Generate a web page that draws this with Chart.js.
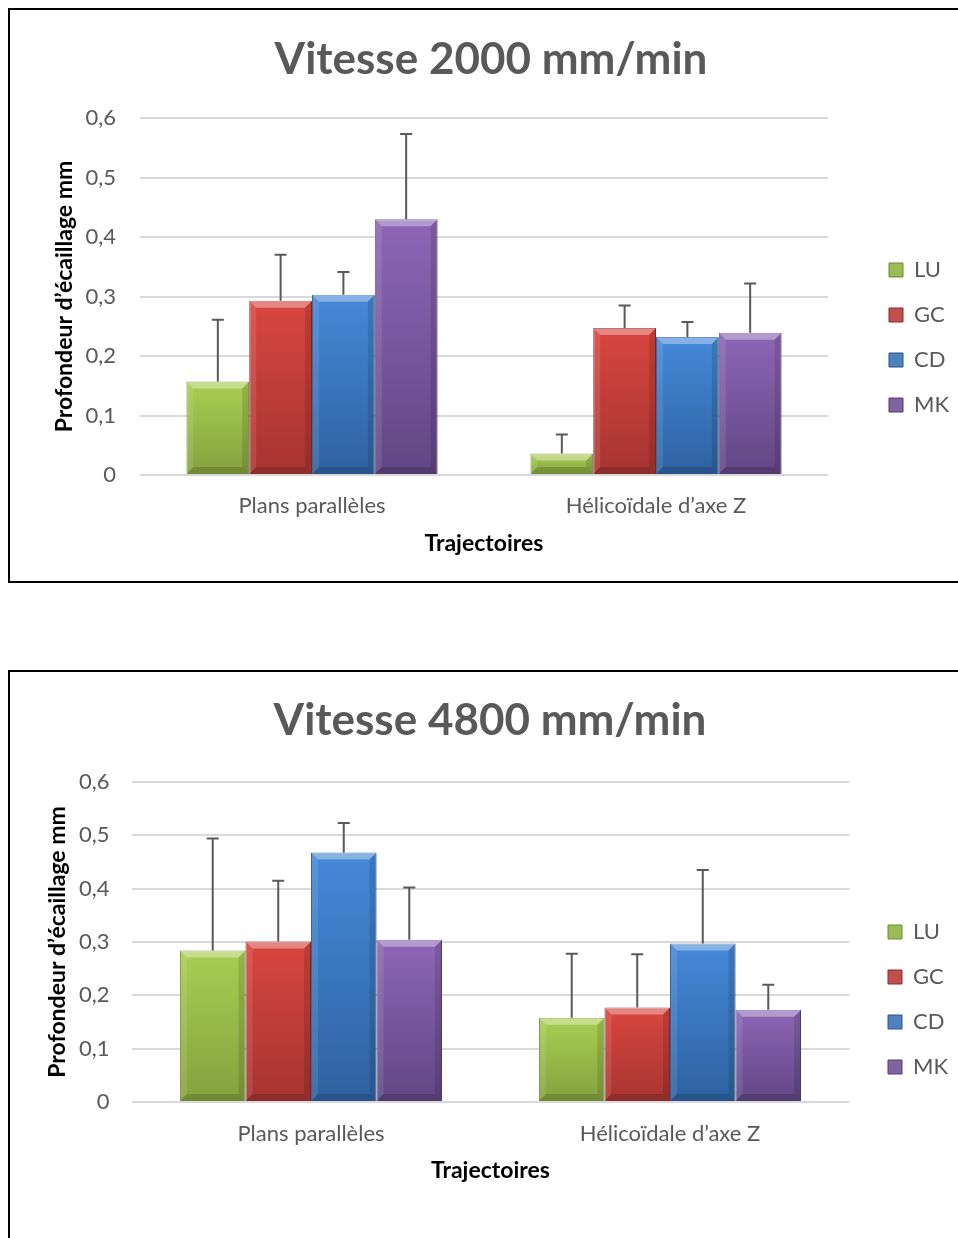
<!DOCTYPE html>
<html>
<head>
<meta charset="utf-8">
<script src="https://cdn.jsdelivr.net/npm/chart.js@4/dist/chart.umd.min.js"></script>
<style>
  html, body { margin: 0; padding: 0; background: #fff; width: 958px; height: 1238px; overflow: hidden; }
  .box { position: absolute; left: 8px; border: 2px solid #000; background: #fff; }
  #box1 { top: 8px; width: 1000px; height: 571px; }
  #box2 { top: 670px; width: 1000px; height: 620px; }
  canvas { display: block; }
</style>
</head>
<body>
<div class="box" id="box1"><canvas id="c1" width="1000" height="571"></canvas></div>
<div class="box" id="box2"><canvas id="c2" width="1000" height="600"></canvas></div>
<script>
// ---------- data ----------
const categories = ['Plans parallèles', 'Hélicoïdale d’axe Z'];
const seriesNames = ['LU', 'GC', 'CD', 'MK'];
const yTickLabels = ['0', '0,1', '0,2', '0,3', '0,4', '0,5', '0,6'];
const yAxisTitle = 'Profondeur d’écaillage mm';
const xAxisTitle = 'Trajectoires';
const title2000 = 'Vitesse 2000 mm/min';
const title4800 = 'Vitesse 4800 mm/min';

// Vitesse 2000 mm/min
const lu2000 = [0.157, 0.036];
const gc2000 = [0.293, 0.247];
const cd2000 = [0.303, 0.232];
const mk2000 = [0.430, 0.239];
const luErr2000 = [0.104, 0.032];
const gcErr2000 = [0.077, 0.038];
const cdErr2000 = [0.038, 0.025];
const mkErr2000 = [0.143, 0.083];

// Vitesse 4800 mm/min
const lu4800 = [0.284, 0.158];
const gc4800 = [0.301, 0.177];
const cd4800 = [0.468, 0.297];
const mk4800 = [0.304, 0.173];
const luErr4800 = [0.210, 0.120];
const gcErr4800 = [0.114, 0.100];
const cdErr4800 = [0.055, 0.138];
const mkErr4800 = [0.098, 0.047];

// ---------- styles ----------
const topColors = ['#a9ce52', '#d9463f', '#4589d9', '#8d66b6'];
const botColors = ['#84a13e', '#a63431', '#2e62a0', '#614684'];
const midColors = ['#9bbb59', '#c0504d', '#4f81bd', '#8064a2'];
const edgeColors = ['#718b33', '#8c2b28', '#28558a', '#513d75'];

const FAMILY = 'Lato, "Open Sans", sans-serif';
Chart.defaults.font.family = FAMILY;
Chart.defaults.color = '#595959';

const TICK_SIZE = 22, AXIS_TITLE_SIZE = 23, LEGEND_SIZE = 22, LEG_BOX = 14, LEG_PAD = 23;

// natural width of the vertical legend (as Chart.js computes it)
function legendWidth() {
  const c = document.createElement('canvas').getContext('2d');
  c.font = 'normal normal ' + LEGEND_SIZE + 'px ' + FAMILY;
  let w = 0;
  seriesNames.forEach(n => { w = Math.max(w, LEG_BOX + LEGEND_SIZE / 2 + c.measureText(n).width); });
  return LEG_PAD + w + 10;
}

const barDecor = {
  id: 'barDecor',
  afterDatasetsDraw(chart) {
    const ctx = chart.ctx;
    const yScale = chart.scales.y;
    chart.data.datasets.forEach((ds, di) => {
      const meta = chart.getDatasetMeta(di);
      meta.data.forEach((bar) => {
        const p = bar.getProps(['x', 'y', 'base', 'width'], true);
        const l = p.x - p.width / 2, r = p.x + p.width / 2, t = p.y, b = p.base;
        const h = b - t;
        const bv = Math.min(7, h / 2, p.width / 2);
        ctx.save();
        ctx.fillStyle = 'rgba(255,255,255,0.35)';
        ctx.beginPath(); ctx.moveTo(l, t); ctx.lineTo(r, t); ctx.lineTo(r - bv, t + bv); ctx.lineTo(l + bv, t + bv); ctx.closePath(); ctx.fill();
        ctx.fillStyle = 'rgba(255,255,255,0.10)';
        ctx.beginPath(); ctx.moveTo(l, t); ctx.lineTo(l + bv, t + bv); ctx.lineTo(l + bv, b - bv); ctx.lineTo(l, b); ctx.closePath(); ctx.fill();
        ctx.fillStyle = 'rgba(0,0,0,0.12)';
        ctx.beginPath(); ctx.moveTo(r, t); ctx.lineTo(r - bv, t + bv); ctx.lineTo(r - bv, b - bv); ctx.lineTo(r, b); ctx.closePath(); ctx.fill();
        ctx.fillStyle = 'rgba(0,0,0,0.15)';
        ctx.beginPath(); ctx.moveTo(l, b); ctx.lineTo(l + bv, b - bv); ctx.lineTo(r - bv, b - bv); ctx.lineTo(r, b); ctx.closePath(); ctx.fill();
        ctx.restore();
      });
    });
    chart.data.datasets.forEach((ds, di) => {
      const meta = chart.getDatasetMeta(di);
      meta.data.forEach((bar, i) => {
        const v = ds.data[i], e = ds.errors[i];
        const x = bar.x;
        const y0 = yScale.getPixelForValue(v);
        const y1 = yScale.getPixelForValue(v + e);
        ctx.save();
        ctx.strokeStyle = '#595959';
        ctx.lineWidth = 2;
        ctx.beginPath();
        ctx.moveTo(x, y0); ctx.lineTo(x, y1);
        ctx.moveTo(x - 6, y1); ctx.lineTo(x + 6, y1);
        ctx.stroke();
        ctx.restore();
      });
    });
  }
};

function makeDatasets(values, errors) {
  return values.map((vals, si) => ({
    label: seriesNames[si],
    data: vals,
    errors: errors[si],
    borderColor: edgeColors[si],
    borderWidth: 1,
    backgroundColor: (c) => {
      const chart = c.chart;
      if (!chart.chartArea || !chart.scales.y || c.raw == null) return midColors[si];
      const ys = chart.scales.y;
      const top = ys.getPixelForValue(c.raw);
      const base = ys.getPixelForValue(0);
      if (!isFinite(top) || !isFinite(base) || base - top < 1) return midColors[si];
      const g = chart.ctx.createLinearGradient(0, top, 0, base);
      g.addColorStop(0, topColors[si]);
      g.addColorStop(1, botColors[si]);
      return g;
    },
    categoryPercentage: 0.73,
    barPercentage: 1.0
  }));
}

// g: target geometry in canvas pixels
function makeChart(id, title, values, errors, g) {
  const canvasW = 1000;
  const Lw = legendWidth();
  const legRight = g.legBoxX - LEG_PAD + Lw;       // right edge of legend = W - padR
  const padR = canvasW - legRight;
  const padL = 2 * g.titleCenterX - legRight;       // keeps title centred at titleCenterX
  const legLeft = legRight - Lw;
  const rightGap = legLeft - g.plotRight;
  const legTitleH = g.legFirstY - LEG_PAD - Math.max(LEGEND_SIZE, LEG_BOX) / 2;
  const tLine = AXIS_TITLE_SIZE * 1.2;

  return new Chart(document.getElementById(id), {
    type: 'bar',
    data: { labels: categories, datasets: makeDatasets(values, errors) },
    plugins: [barDecor],
    options: {
      responsive: false,
      animation: false,
      events: [],
      layout: { padding: { left: padL, right: padR, top: 0, bottom: 0 } },
      plugins: {
        tooltip: { enabled: false },
        title: {
          display: true, text: title, color: '#595959',
          font: { size: 44, weight: 'bold' },
          padding: { top: g.titleCenterY - 26.4, bottom: g.plotTop - g.titleCenterY - 26.4 }
        },
        legend: {
          position: 'right', align: 'start', fullSize: true,
          title: { display: true, text: ' ', font: { size: 10 }, padding: { top: legTitleH - 12, bottom: 0 } },
          labels: {
            boxWidth: LEG_BOX, boxHeight: LEG_BOX, padding: LEG_PAD, color: '#595959',
            font: { size: LEGEND_SIZE },
            generateLabels: (chart) => chart.data.datasets.map((ds, i) => ({
              text: ds.label, fillStyle: midColors[i], strokeStyle: edgeColors[i],
              lineWidth: 1, hidden: false, datasetIndex: i, fontColor: '#595959'
            }))
          }
        }
      },
      scales: {
        x: {
          grid: { display: false, drawTicks: false },
          border: { display: false },
          ticks: { color: '#595959', font: { size: TICK_SIZE }, padding: g.xLabelY - g.plotBottom - TICK_SIZE * 0.6 },
          title: { display: true, text: xAxisTitle, color: '#000', font: { size: AXIS_TITLE_SIZE, weight: 'bold' },
                   padding: { top: 0, bottom: g.canvasH - g.xTitleY - tLine / 2 } },
          afterFit: (s) => { s.height = g.canvasH - g.plotBottom; }
        },
        y: {
          min: 0, max: 0.6,
          grid: { color: '#d9d9d9', lineWidth: 2, drawTicks: false },
          border: { display: false },
          ticks: {
            stepSize: 0.1, padding: g.yTickPad, color: '#595959', font: { size: TICK_SIZE },
            callback: (v) => yTickLabels[Math.round(v * 10)]
          },
          title: { display: true, text: yAxisTitle, color: '#000', font: { size: AXIS_TITLE_SIZE, weight: 'bold' },
                   padding: { top: g.yTitleX - tLine / 2 - padL, bottom: 0 } },
          afterFit: (s) => { s.width = g.plotLeft - padL; }
        },
        yR: {
          position: 'right', display: true,
          grid: { display: false, drawTicks: false }, border: { display: false },
          ticks: { display: false },
          afterFit: (s) => { s.width = rightGap; }
        }
      }
    }
  });
}

makeChart('c1', title2000,
  [lu2000, gc2000, cd2000, mk2000],
  [luErr2000, gcErr2000, cdErr2000, mkErr2000],
  { canvasH: 571, titleCenterX: 481, titleCenterY: 50, plotTop: 108, plotBottom: 465, plotLeft: 130, plotRight: 818,
    legBoxX: 879, legFirstY: 260, xLabelY: 496, xTitleY: 534, yTickPad: 24, yTitleX: 55 });

makeChart('c2', title4800,
  [lu4800, gc4800, cd4800, mk4800],
  [luErr4800, gcErr4800, cdErr4800, mkErr4800],
  { canvasH: 600, titleCenterX: 480, titleCenterY: 49, plotTop: 110, plotBottom: 430, plotLeft: 121.5, plotRight: 839.5,
    legBoxX: 878, legFirstY: 260, xLabelY: 462, xTitleY: 499, yTickPad: 22, yTitleX: 48 });
</script>
</body>
</html>
